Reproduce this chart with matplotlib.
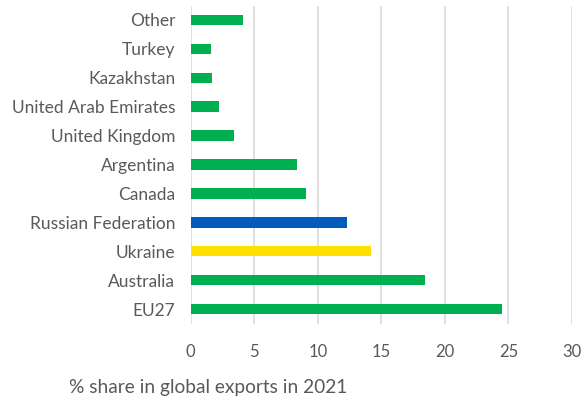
import matplotlib
matplotlib.use("Agg")
import matplotlib.pyplot as plt

categories = ["Other", "Turkey", "Kazakhstan", "United Arab Emirates", "United Kingdom",
              "Argentina", "Canada", "Russian Federation", "Ukraine", "Australia", "EU27"]
values = [4.1, 1.6, 1.7, 2.2, 3.4, 8.4, 9.1, 12.3, 14.2, 18.4, 24.5]
GREEN, BLUE, YELLOW = "#00B050", "#005BBB", "#FFE000"
colors = [GREEN] * 7 + [BLUE, YELLOW, GREEN, GREEN]
xticks = [0, 5, 10, 15, 20, 25, 30]
xlabel = "% share in global exports in 2021"

plt.rcParams['font.family'] = ['Lato', 'DejaVu Sans']
TXT = "#595959"

fig = plt.figure(figsize=(5.84, 4.05), dpi=100)
ax = fig.add_axes([0.3265, 0.2012, 0.653, 0.7852])
ypos = list(range(len(categories)))
ax.barh(ypos, values, height=0.36, color=colors, zorder=3)
ax.set_ylim(len(categories) - 0.5, -0.5)
ax.set_xlim(0, 30)
ax.set_yticks(ypos)
ax.set_yticklabels(categories, fontsize=12.5, color=TXT)
ax.set_xticks(xticks)
ax.set_xticklabels([str(t) for t in xticks], fontsize=12, color=TXT)
ax.tick_params(axis='both', length=0)
ax.tick_params(axis='y', pad=11)
ax.tick_params(axis='x', pad=15)
for s in ax.spines.values():
    s.set_visible(False)
ax.grid(axis='x', color="#D9D9D9", linewidth=1.2, zorder=0)
ax.set_axisbelow(True)
fig.text(69 / 584, 1 - 388 / 405, xlabel, fontsize=13.8, color=TXT, ha='left', va='center')
fig.savefig("out.png", dpi=100, facecolor="white")
